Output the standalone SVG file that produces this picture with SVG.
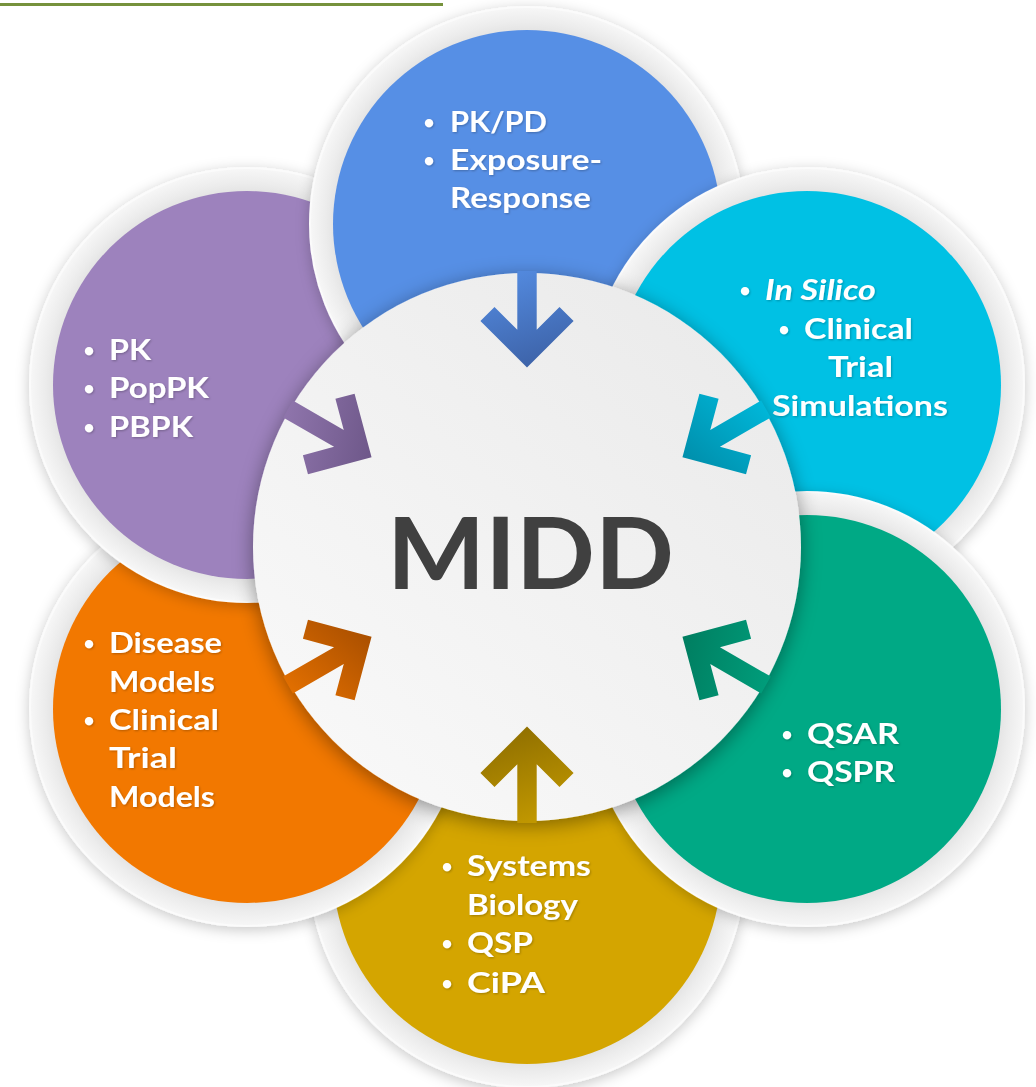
<svg xmlns="http://www.w3.org/2000/svg" width="1036" height="1087" viewBox="0 0 1036 1087">
  <defs>
    <style>
      .ring { fill: url(#ringGrad); stroke: #fbfbfb; stroke-width: 2; }
      .lbl { font-family: Lato, "Open Sans", "Liberation Sans", sans-serif; font-weight: 700; font-size: 28px; fill: #ffffff; }
      .bul { font-family: Lato, "Liberation Sans", sans-serif; font-weight: 700; font-size: 19px; fill: #ffffff; text-anchor: middle; }
      .it { font-style: italic; }
      .txt { filter: url(#textShadow); }
      .node { filter: url(#nodeShadow); }
      .midd { font-family: Lato, "Open Sans", "Liberation Sans", sans-serif; font-weight: 700; font-size: 100px; fill: #404040; }
    </style>
    <radialGradient id="ringGrad" cx="0.5" cy="0.5" r="0.5">
      <stop offset="0.88" stop-color="#e2e2e2"/>
      <stop offset="0.93" stop-color="#ececec"/>
      <stop offset="1" stop-color="#f7f7f7"/>
    </radialGradient>
    <linearGradient id="centerGrad" x1="0.85" y1="0.1" x2="0.15" y2="0.9">
      <stop offset="0" stop-color="#ebebeb"/>
      <stop offset="1" stop-color="#f8f8f8"/>
    </linearGradient>
    <filter id="nodeShadow" x="-20%" y="-20%" width="140%" height="140%">
      <feDropShadow dx="0" dy="3" stdDeviation="7" flood-color="#000" flood-opacity="0.22"/>
    </filter>
    <filter id="centerShadow" x="-20%" y="-20%" width="140%" height="140%">
      <feDropShadow dx="0" dy="4" stdDeviation="10" flood-color="#000" flood-opacity="0.4"/>
    </filter>
    <filter id="textShadow" x="-10%" y="-10%" width="120%" height="130%">
      <feDropShadow dx="1" dy="1" stdDeviation="0.8" flood-color="#000" flood-opacity="0.25"/>
    </filter>
    <linearGradient id="gBlue" gradientUnits="userSpaceOnUse" x1="527" y1="271" x2="560" y2="368">
      <stop offset="0" stop-color="#5288dc"/>
      <stop offset="1" stop-color="#3b5fa3"/>
    </linearGradient>
    <linearGradient id="gCyan" gradientUnits="userSpaceOnUse" x1="527" y1="271" x2="560" y2="368">
      <stop offset="0" stop-color="#00b6d8"/>
      <stop offset="1" stop-color="#008aa6"/>
    </linearGradient>
    <linearGradient id="gGreen" gradientUnits="userSpaceOnUse" x1="527" y1="271" x2="560" y2="368">
      <stop offset="0" stop-color="#009c7a"/>
      <stop offset="1" stop-color="#007a5d"/>
    </linearGradient>
    <linearGradient id="gYellow" gradientUnits="userSpaceOnUse" x1="527" y1="271" x2="560" y2="368">
      <stop offset="0" stop-color="#c09700"/>
      <stop offset="1" stop-color="#8c6c00"/>
    </linearGradient>
    <linearGradient id="gOrange" gradientUnits="userSpaceOnUse" x1="527" y1="271" x2="560" y2="368">
      <stop offset="0" stop-color="#e06e00"/>
      <stop offset="1" stop-color="#a44c00"/>
    </linearGradient>
    <linearGradient id="gPurple" gradientUnits="userSpaceOnUse" x1="527" y1="271" x2="560" y2="368">
      <stop offset="0" stop-color="#8e74ab"/>
      <stop offset="1" stop-color="#6a5485"/>
    </linearGradient>
    <path id="arrow" d="M527,367.5 L573.6,321 L559.5,307 L536.7,329.8 L536.7,271 L517.3,271 L517.3,329.8 L494.5,307 L480.4,321 Z"/>
  </defs>

  <rect x="0" y="0" width="1036" height="1087" fill="#ffffff"/>
  <line x1="0" y1="4.5" x2="443" y2="4.5" stroke="#76923c" stroke-width="3"/>

  <!-- yellow (bottom) -->
  <g id="node-yellow" class="node">
    <circle class="ring" cx="527" cy="870" r="217"/>
    <circle cx="527" cy="870" r="194" fill="#d4a500"/>
    <g class="txt">
      <text class="bul" x="447" y="873">•</text>
      <text class="lbl" x="467" y="876" textLength="124" lengthAdjust="spacingAndGlyphs">Systems</text>
      <text class="lbl" x="467" y="915" textLength="111" lengthAdjust="spacingAndGlyphs">Biology</text>
      <text class="bul" x="447" y="950">•</text>
      <text class="lbl" x="467" y="953" textLength="66" lengthAdjust="spacingAndGlyphs">QSP</text>
      <text class="bul" x="447" y="990">•</text>
      <text class="lbl" x="467" y="993" textLength="78" lengthAdjust="spacingAndGlyphs">CiPA</text>
    </g>
  </g>

  <!-- orange (lower left) -->
  <g id="node-orange" class="node">
    <circle class="ring" cx="247" cy="709" r="217"/>
    <circle cx="247" cy="709" r="194" fill="#f27800"/>
    <g class="txt">
      <text class="bul" x="89" y="650">•</text>
      <text class="lbl" x="109" y="653" textLength="113" lengthAdjust="spacingAndGlyphs">Disease</text>
      <text class="lbl" x="109" y="692" textLength="106" lengthAdjust="spacingAndGlyphs">Models</text>
      <text class="bul" x="89" y="727">•</text>
      <text class="lbl" x="109" y="730" textLength="110" lengthAdjust="spacingAndGlyphs">Clinical</text>
      <text class="lbl" x="109" y="768" textLength="68" lengthAdjust="spacingAndGlyphs">Trial</text>
      <text class="lbl" x="109" y="807" textLength="106" lengthAdjust="spacingAndGlyphs">Models</text>
    </g>
  </g>

  <!-- purple (upper left) -->
  <g id="node-purple" class="node">
    <circle class="ring" cx="247" cy="385" r="217"/>
    <circle cx="247" cy="385" r="194" fill="#9d82bd"/>
    <g class="txt">
      <text class="bul" x="89" y="357">•</text>
      <text class="lbl" x="109" y="360" textLength="42" lengthAdjust="spacingAndGlyphs">PK</text>
      <text class="bul" x="89" y="395">•</text>
      <text class="lbl" x="109" y="398" textLength="100" lengthAdjust="spacingAndGlyphs">PopPK</text>
      <text class="bul" x="89" y="434">•</text>
      <text class="lbl" x="109" y="437" textLength="84" lengthAdjust="spacingAndGlyphs">PBPK</text>
    </g>
  </g>

  <!-- blue (top) -->
  <g id="node-blue" class="node">
    <circle class="ring" cx="527" cy="224" r="217"/>
    <circle cx="527" cy="224" r="194" fill="#578fe5"/>
    <g class="txt">
      <text class="bul" x="429" y="129">•</text>
      <text class="lbl" x="450" y="132" textLength="97" lengthAdjust="spacingAndGlyphs">PK/PD</text>
      <text class="bul" x="429" y="167">•</text>
      <text class="lbl" x="450" y="170" textLength="152" lengthAdjust="spacingAndGlyphs">Exposure-</text>
      <text class="lbl" x="450" y="208" textLength="141" lengthAdjust="spacingAndGlyphs">Response</text>
    </g>
  </g>

  <!-- cyan (upper right) -->
  <g id="node-cyan" class="node">
    <circle class="ring" cx="807" cy="385" r="217"/>
    <circle cx="807" cy="385" r="194" fill="#00c1e4"/>
    <g class="txt">
      <text class="bul" x="745" y="297">•</text>
      <text class="lbl it" x="765" y="300" textLength="111" lengthAdjust="spacingAndGlyphs">In Silico</text>
      <text class="bul" x="784" y="336">•</text>
      <text class="lbl" x="804" y="339" textLength="109" lengthAdjust="spacingAndGlyphs">Clinical</text>
      <text class="lbl" x="828" y="377" textLength="65" lengthAdjust="spacingAndGlyphs">Trial</text>
      <text class="lbl" x="772" y="416" textLength="176" lengthAdjust="spacingAndGlyphs">Simulations</text>
    </g>
  </g>

  <!-- green (lower right) -->
  <g id="node-green" class="node">
    <circle class="ring" cx="807" cy="709" r="217"/>
    <circle cx="807" cy="709" r="194" fill="#00a985"/>
    <g class="txt">
      <text class="bul" x="787" y="741">•</text>
      <text class="lbl" x="807" y="744" textLength="92" lengthAdjust="spacingAndGlyphs">QSAR</text>
      <text class="bul" x="787" y="779">•</text>
      <text class="lbl" x="807" y="782" textLength="88" lengthAdjust="spacingAndGlyphs">QSPR</text>
    </g>
  </g>

  <!-- center -->
  <g id="node-midd">
    <circle cx="527" cy="547" r="274" fill="url(#centerGrad)" filter="url(#centerShadow)"/>
    <text class="midd" x="387" y="589" textLength="287" lengthAdjust="spacingAndGlyphs">MIDD</text>
  </g>

  <!-- connectors -->
  <g id="connectors">
    <use href="#arrow" fill="url(#gBlue)"/>
    <use href="#arrow" fill="url(#gCyan)" transform="rotate(60 527 547)"/>
    <use href="#arrow" fill="url(#gGreen)" transform="rotate(120 527 547)"/>
    <use href="#arrow" fill="url(#gYellow)" transform="rotate(180 527 547)"/>
    <use href="#arrow" fill="url(#gOrange)" transform="rotate(240 527 547)"/>
    <use href="#arrow" fill="url(#gPurple)" transform="rotate(300 527 547)"/>
  </g>
</svg>
